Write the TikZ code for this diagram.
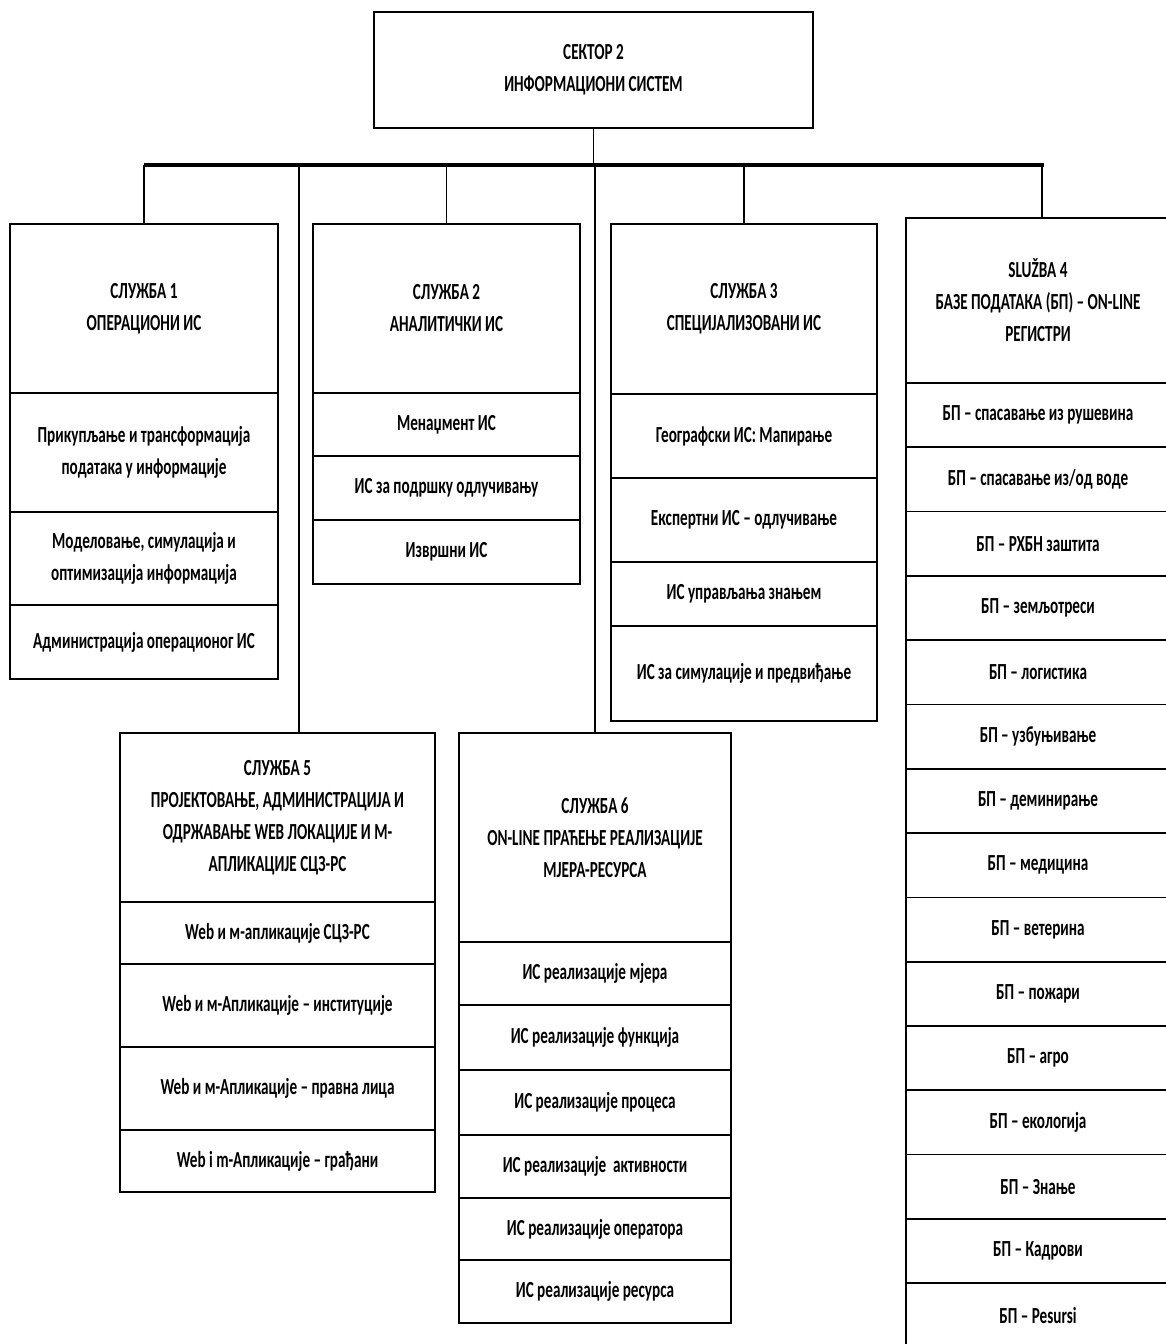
\documentclass[tikz,border=0pt]{standalone}
\usepackage{fontspec}
\newfontfamily\cellfont[FakeStretch=0.66]{Carlito}
\begin{document}
\begin{tikzpicture}[x=1pt,y=-1pt,
  cell/.style={draw, line width=1.7pt, anchor=north west, inner sep=0pt, outer sep=0pt,
    align=center, font=\cellfont\bfseries\fontsize{23}{32}\selectfont},
  wh/.style 2 args={minimum width=#1pt, minimum height=#2pt},
  link/.style={line width=1.9pt},
  busline/.style={line width=3.8pt}]
\useasboundingbox (0,0) rectangle (1166,1344);
\clip (0,0) rectangle (1166,1344);

% sector head
\node[cell, wh={439}{116}] (top) at (374,12) {СЕКТОР 2\\ИНФОРМАЦИОНИ СИСТЕМ};

% service 1
\node[cell, wh={268}{169}] (s1h) at (10,224) {СЛУЖБА 1\\ОПЕРАЦИОНИ ИС};
\node[cell, wh={268}{119}] (s1a) at (10,393) {Прикупљање и трансформација\\података у информације};
\node[cell, wh={268}{93}]  (s1b) at (10,512) {Моделовање, симулација и\\оптимизација информација};
\node[cell, wh={268}{74}]  (s1c) at (10,605) {Администрација операционог ИС};

% service 2
\node[cell, wh={267}{169}] (s2h) at (313,224) {СЛУЖБА 2\\АНАЛИТИЧКИ ИС};
\node[cell, wh={267}{63}]  (s2a) at (313,393) {Менаџмент ИС};
\node[cell, wh={267}{64}]  (s2b) at (313,456) {ИС за подршку одлучивању};
\node[cell, wh={267}{64}]  (s2c) at (313,520) {Извршни ИС};

% service 3
\node[cell, wh={266}{170}] (s3h) at (611,224) {СЛУЖБА 3\\СПЕЦИЈАЛИЗОВАНИ ИС};
\node[cell, wh={266}{84}]  (s3a) at (611,394) {Географски ИС: Мапирање};
\node[cell, wh={266}{84}]  (s3b) at (611,478) {Експертни ИС – одлучивање};
\node[cell, wh={266}{64}]  (s3c) at (611,562) {ИС управљања знањем};
\node[cell, wh={266}{95}]  (s3d) at (611,626) {ИС за симулације и предвиђање};

% service 4
\node[cell, wh={264}{165}] (s4h) at (906,218) {SLUŽBA 4\\БАЗЕ ПОДАТАКА (БП) – ON-LINE\\РЕГИСТРИ};
\foreach \t [count=\i] in {БП – спасавање из рушевина, БП – спасавање из/од воде,
    БП – РХБН заштита, БП – земљотреси, БП – логистика, БП – узбуњивање,
    БП – деминирање, БП – медицина, БП – ветерина, БП – пожари, БП – агро,
    БП – екологија, БП – Знање, БП – Кадрови, БП – Pesursi} {
  \node[cell, wh={264}{64.3}] (s4r\i) at (906,{383+(\i-1)*64.3}) {\t};
}

% service 5
\node[cell, wh={315}{169}] (s5h) at (120,733) {СЛУЖБА 5\\ПРОЈЕКТОВАЊЕ, АДМИНИСТРАЦИЈА И\\ОДРЖАВАЊЕ WEB ЛОКАЦИЈЕ И М-\\АПЛИКАЦИЈЕ СЦЗ-РС};
\node[cell, wh={315}{62}]  (s5a) at (120,902)  {Web и м-апликације СЦЗ-РС};
\node[cell, wh={315}{83}]  (s5b) at (120,964)  {Web и м-Апликације – институције};
\node[cell, wh={315}{83}]  (s5c) at (120,1047) {Web и м-Апликације – правна лица};
\node[cell, wh={315}{62}]  (s5d) at (120,1130) {Web i m-Апликације – грађани};

% service 6
\node[cell, wh={272}{209}] (s6h) at (459,733) {СЛУЖБА 6\\ON-LINE ПРАЋЕЊЕ РЕАЛИЗАЦИЈЕ\\МЈЕРА-РЕСУРСА};
\node[cell, wh={272}{63}]  (s6a) at (459,942)  {ИС реализације мјера};
\node[cell, wh={272}{65}]  (s6b) at (459,1005) {ИС реализације функција};
\node[cell, wh={272}{65}]  (s6c) at (459,1070) {ИС реализације процеса};
\node[cell, wh={272}{63}]  (s6d) at (459,1135) {ИС реализације~ активности};
\node[cell, wh={272}{62}]  (s6e) at (459,1198) {ИС реализације оператора};
\node[cell, wh={272}{63}]  (s6f) at (459,1260) {ИС реализације ресурса};

% distribution bus and drops
\coordinate (busL) at (144,165);
\coordinate (busR) at (1044,165);
\coordinate (d4) at (1042,165);
\coordinate (d5) at (299,165);
\draw[link] (top.south) -- (top.south |- busL);
\draw[link] (s1h.north) -- (s1h.north |- busL);
\draw[link] (s2h.north) -- (s2h.north |- busL);
\draw[link] (s3h.north) -- (s3h.north |- busL);
\draw[link] (d4) -- (d4 |- s4h.north);
\draw[link] (d5) -- (d5 |- s5h.north);
\draw[link] (s6h.north) -- (s6h.north |- busL);
\draw[busline] (busL) -- (busR);
\end{tikzpicture}
\end{document}
